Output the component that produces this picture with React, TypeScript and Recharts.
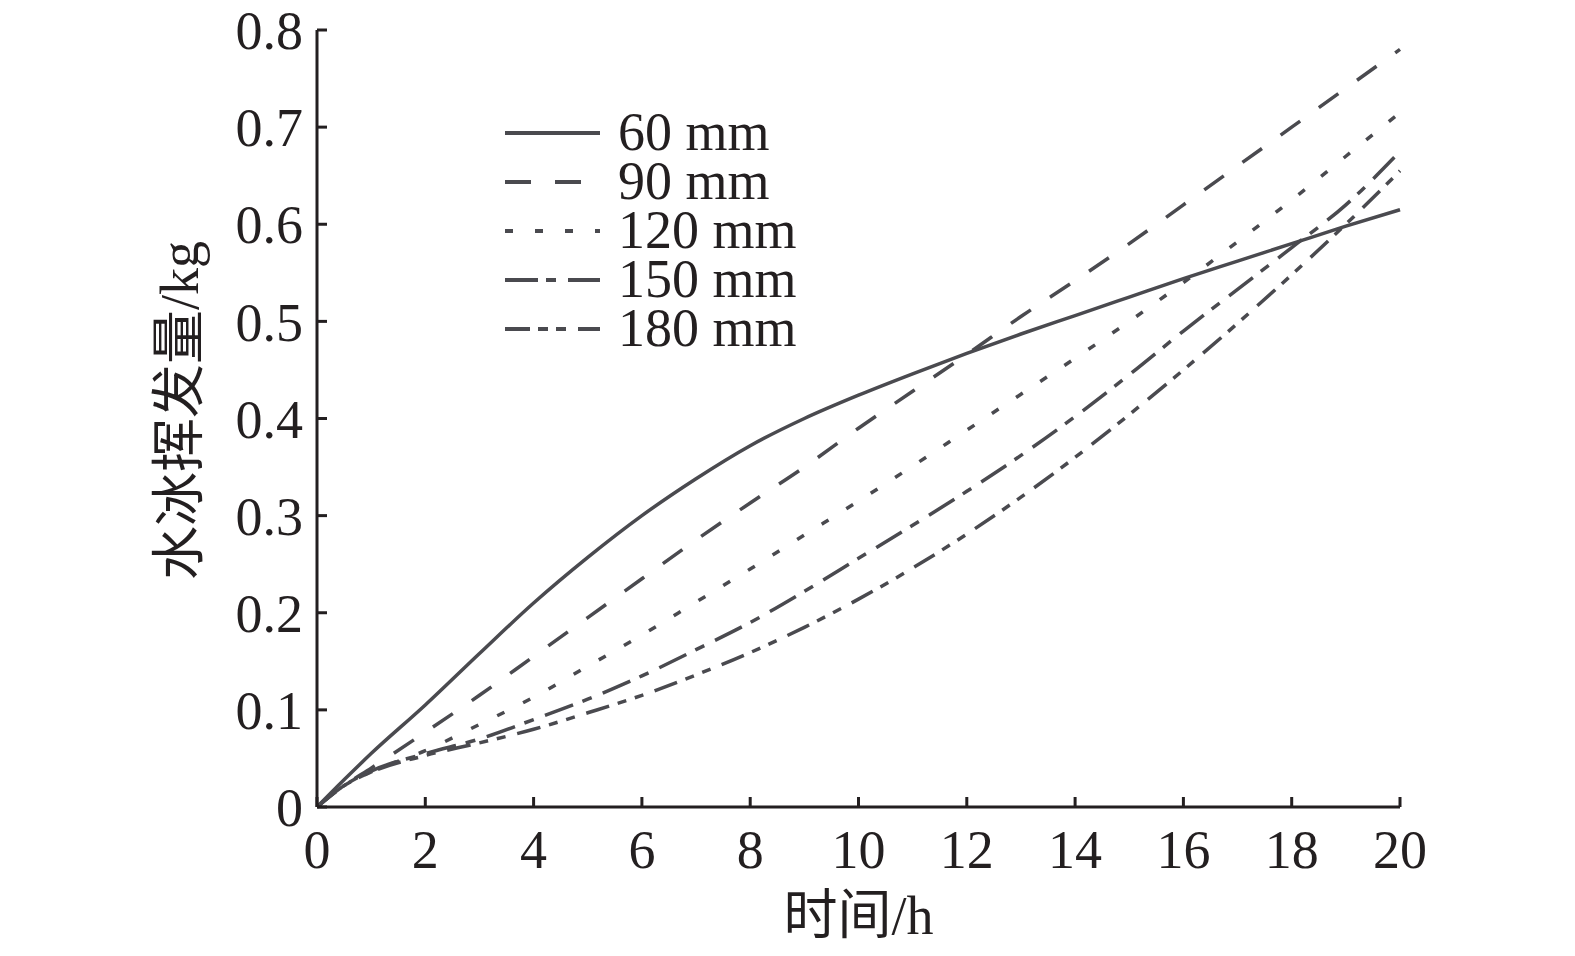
import { LineChart, Line, XAxis, YAxis, Label } from "recharts";

const TIME = [0, 0.5, 1, 2, 3, 4, 5, 6, 7, 8, 9, 10, 11, 12, 13, 14, 15, 16, 17, 18, 19, 20];

const MM60 = [0, 0.028, 0.055, 0.105, 0.158, 0.21, 0.257, 0.3, 0.338, 0.372, 0.4, 0.424, 0.446, 0.467, 0.487, 0.506, 0.525, 0.544, 0.562, 0.58, 0.598, 0.615];
const MM90 = [0, 0.022, 0.04, 0.077, 0.115, 0.155, 0.195, 0.235, 0.275, 0.313, 0.35, 0.39, 0.428, 0.466, 0.505, 0.542, 0.58, 0.62, 0.66, 0.7, 0.74, 0.78];
const MM120 = [0, 0.022, 0.036, 0.058, 0.085, 0.113, 0.145, 0.177, 0.211, 0.245, 0.28, 0.315, 0.351, 0.388, 0.425, 0.462, 0.5, 0.54, 0.582, 0.625, 0.67, 0.715];
const MM150 = [0, 0.022, 0.037, 0.055, 0.07, 0.09, 0.111, 0.135, 0.162, 0.19, 0.222, 0.256, 0.29, 0.325, 0.362, 0.402, 0.445, 0.49, 0.533, 0.576, 0.62, 0.675];
const MM180 = [0, 0.022, 0.036, 0.053, 0.066, 0.08, 0.097, 0.115, 0.136, 0.159, 0.185, 0.214, 0.246, 0.281, 0.319, 0.36, 0.404, 0.45, 0.498, 0.548, 0.6, 0.655];

const X_TICKS = [0, 2, 4, 6, 8, 10, 12, 14, 16, 18, 20];
const Y_TICKS = [0, 0.1, 0.2, 0.3, 0.4, 0.5, 0.6, 0.7, 0.8];

const SERIES = [
  { key: "mm60", name: "60 mm", dash: undefined as string | undefined, legendDash: undefined as string | undefined },
  { key: "mm90", name: "90 mm", dash: "24 23", legendDash: "26 24" },
  { key: "mm120", name: "120 mm", dash: "8 21", legendDash: "8 22" },
  { key: "mm150", name: "150 mm", dash: "30 10 10 12", legendDash: "33 8 10 12" },
  { key: "mm180", name: "180 mm", dash: "24 9 9 9 9 12", legendDash: "25 8 10 8 10 12" },
];

const data = TIME.map((t, i) => ({
  t,
  mm60: MM60[i],
  mm90: MM90[i],
  mm120: MM120[i],
  mm150: MM150[i],
  mm180: MM180[i],
}));

const FONT = '"Liberation Serif", "Times New Roman", "Noto Sans CJK SC", serif';
const INK = "#231f20";
const LINE = "#4a4a4f";

// legend drawn over the plot (a recharts <Legend> would shrink the plot area)
function LegendBox() {
  return (
    <div style={{ position: "absolute", left: 497, top: 100, fontFamily: FONT, fontSize: 54, color: INK }}>
      {SERIES.map((s) => (
        <div key={s.key} style={{ display: "flex", alignItems: "center", height: 49 }}>
          <svg width={113} height={20} style={{ flex: "none" }}>
            <line x1={0} y1={10} x2={95} y2={10} stroke={LINE} strokeWidth={4} strokeDasharray={s.legendDash} />
          </svg>
          <span style={{ lineHeight: "49px", whiteSpace: "nowrap" }}>{s.name}</span>
        </div>
      ))}
    </div>
  );
}

export default function App() {
  return (
    <div style={{ position: "relative", width: 1559, height: 940, background: "#fff" }}>
      <LineChart width={1559} height={940} data={data} margin={{ top: 22, right: 167, bottom: 21, left: 0 }}>
        <XAxis
          dataKey="t"
          type="number"
          domain={[0, 20]}
          ticks={X_TICKS}
          interval={0}
          height={120}
          tickSize={-10}
          tickMargin={33}
          axisLine={{ stroke: INK, strokeWidth: 3 }}
          tickLine={{ stroke: INK, strokeWidth: 3 }}
          tick={{ fill: INK, fontSize: 54, fontFamily: FONT }}
        >
          <Label
            content={(props: any) => {
              const vb = props.viewBox;
              return (
                <text
                  x={vb.x + vb.width / 2}
                  y={vb.y + 109}
                  textAnchor="middle"
                  dominantBaseline="central"
                  fill={INK}
                  fontSize={54}
                  fontFamily={FONT}
                >
                  时间/h
                </text>
              );
            }}
          />
        </XAxis>
        <YAxis
          type="number"
          domain={[0, 0.8]}
          ticks={Y_TICKS}
          interval={0}
          width={309}
          tickSize={-10}
          tickMargin={24}
          tickFormatter={(v: number) => (v === 0 ? "0" : v.toFixed(1))}
          axisLine={{ stroke: INK, strokeWidth: 3 }}
          tickLine={{ stroke: INK, strokeWidth: 3 }}
          tick={{ fill: INK, fontSize: 54, fontFamily: FONT }}
        >
          <Label
            content={(props: any) => {
              const vb = props.viewBox;
              const cx = 172;
              const cy = vb.y + vb.height / 2 - 8;
              return (
                <text
                  x={cx}
                  y={cy}
                  transform={`rotate(-90 ${cx} ${cy})`}
                  textAnchor="middle"
                  dominantBaseline="central"
                  fill={INK}
                  fontSize={54}
                  fontFamily={FONT}
                >
                  水冰挥发量/kg
                </text>
              );
            }}
          />
        </YAxis>
        {SERIES.map((s) => (
          <Line
            key={s.key}
            dataKey={s.key}
            name={s.name}
            type="monotone"
            stroke={LINE}
            strokeWidth={3.5}
            strokeDasharray={s.dash}
            dot={false}
            activeDot={false}
            isAnimationActive={false}
          />
        ))}
      </LineChart>
      <LegendBox />
    </div>
  );
}
